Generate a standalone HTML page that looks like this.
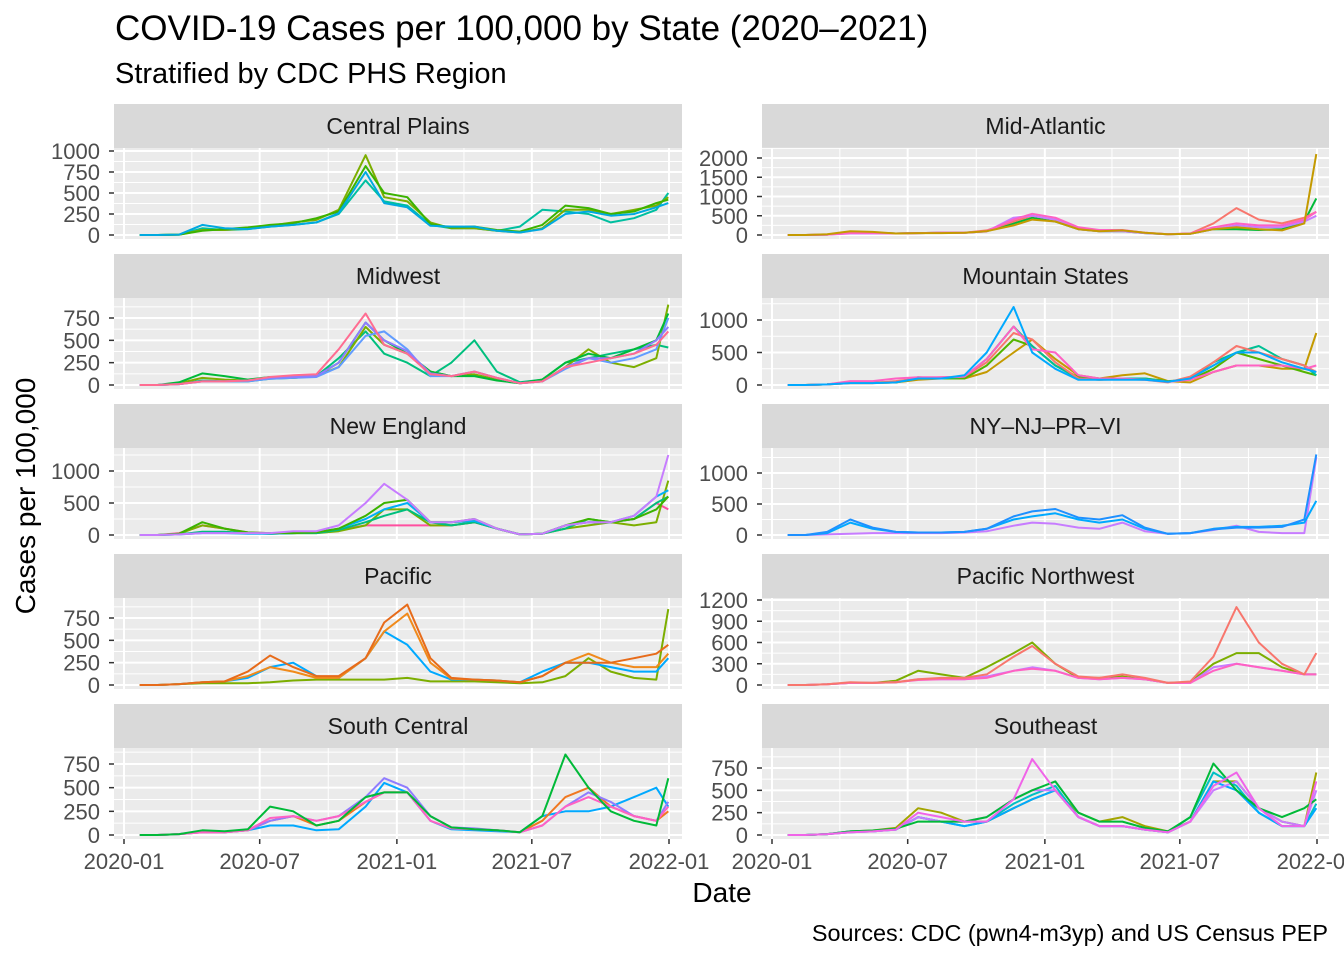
<!DOCTYPE html>
<html><head><meta charset="utf-8"><style>
body{margin:0;background:#fff;}
svg text{font-family:"Liberation Sans",Arial,sans-serif;}
</style></head><body>
<svg id="chart" width="1344" height="960" viewBox="0 0 1344 960" xmlns="http://www.w3.org/2000/svg">
<text x="115" y="40" font-size="35" fill="#000">COVID-19 Cases per 100,000 by State (2020–2021)</text>
<text x="115" y="83" font-size="29" fill="#000">Stratified by CDC PHS Region</text>
<text x="722" y="902" font-size="28" text-anchor="middle" fill="#000">Date</text>
<text transform="translate(35,496) rotate(-90)" font-size="28" text-anchor="middle" fill="#000">Cases per 100,000</text>
<text x="1328" y="941" font-size="23.4" text-anchor="end" fill="#000">Sources: CDC (pwn4-m3yp) and US Census PEP</text>
<g id="panels"></g>
</svg>
<script>
const dates = ["2020-01-22","2020-02-15","2020-03-15","2020-04-15","2020-05-15","2020-06-15","2020-07-15","2020-08-15","2020-09-15","2020-10-15","2020-11-20","2020-12-15","2021-01-15","2021-02-15","2021-03-15","2021-04-15","2021-05-15","2021-06-15","2021-07-15","2021-08-15","2021-09-15","2021-10-15","2021-11-15","2021-12-15","2021-12-31"];
const xTickLabels = ["2020-01","2020-07","2021-01","2021-07","2022-01"];
const xMinorDates = ["2020-04-01","2020-10-01","2021-04-01","2021-10-01"];
const regions = ["Central Plains","Mid-Atlantic","Midwest","Mountain States","New England","NY–NJ–PR–VI","Pacific","Pacific Northwest","South Central","Southeast"];
const yTicks = [[0,250,500,750,1000],[0,500,1000,1500,2000],[0,250,500,750],[0,500,1000],[0,500,1000],[0,500,1000],[0,250,500,750],[0,300,600,900,1200],[0,250,500,750],[0,250,500,750]];
const yMaxPix = [[1000,151],[2000,158],[750,318],[1000,320],[1000,471],[1000,473],[750,618],[1200,600],[750,764],[750,768]];

const cpOlive=[0,0,5,60,60,80,110,150,180,300,950,450,400,150,80,80,50,30,80,300,300,250,300,350,450];
const cpGreen=[0,0,5,50,70,90,120,140,200,280,820,500,450,130,90,100,60,40,120,350,320,250,280,380,420];
const cpTeal=[0,0,5,80,60,70,100,120,150,250,650,400,350,120,80,80,50,100,300,280,250,150,200,300,500];
const cpBlue=[0,0,5,120,80,70,100,120,150,260,750,380,330,110,100,100,50,30,70,250,280,230,250,330,380];

const maGold=[0,0,20,100,80,40,50,50,60,100,250,400,350,150,100,120,60,20,30,150,200,150,120,300,2100];
const maGreen=[0,0,10,80,60,40,50,60,60,100,300,450,350,150,100,100,50,20,30,150,150,130,150,350,950];
const maRed=[0,0,10,70,60,40,50,60,60,120,350,500,400,180,120,120,60,20,40,300,700,400,300,450,600];
const maPink=[0,0,10,50,50,40,50,60,60,100,400,550,450,200,130,130,60,20,40,200,300,250,250,400,600];
const maPurple=[0,0,10,40,40,40,50,60,60,90,450,500,400,150,100,100,50,20,30,150,250,200,200,350,500];

const mwOlive=[0,0,20,80,60,50,80,80,100,200,650,450,350,150,100,120,60,20,40,200,400,250,200,300,900];
const mwGreen=[0,0,30,130,100,60,90,90,100,250,700,500,350,150,100,100,50,20,60,250,350,300,400,500,800];
const mwTeal=[0,0,10,50,40,40,70,80,100,300,600,350,250,100,250,500,150,30,60,250,300,350,400,450,420];
const mwBlue=[0,0,10,40,40,40,70,80,90,200,550,600,400,100,100,150,80,20,40,180,300,250,300,400,750];
const mwPink=[0,0,10,40,40,50,90,110,120,400,800,450,350,120,100,150,80,20,40,200,250,300,350,450,600];
const mwPurple=[0,0,10,40,40,50,80,90,100,250,700,500,380,130,100,150,80,20,40,200,300,300,350,500,650];

const msGold=[0,0,10,30,30,40,80,100,100,200,500,700,400,150,100,150,180,60,40,200,300,300,250,250,800];
const msGreen=[0,0,10,40,40,40,100,100,100,300,700,600,300,120,100,100,100,60,80,250,500,400,300,200,150];
const msTeal=[0,0,10,40,40,40,120,100,130,400,900,600,300,100,80,100,100,50,100,350,500,600,400,300,150];
const msBlue=[0,0,10,30,30,40,100,100,150,500,1200,500,250,80,80,80,80,50,100,300,500,500,350,250,200];
const msRed=[0,0,10,30,30,60,100,120,130,350,800,700,350,100,80,90,80,40,130,350,600,500,400,300,200];
const msPink=[0,0,10,60,60,100,120,120,130,400,900,550,500,150,100,100,80,50,80,200,300,300,300,250,300];

const neOlive=[0,0,20,150,100,30,20,30,30,60,150,400,400,150,150,200,100,10,20,100,150,200,150,200,850];
const neGreen=[0,0,20,200,100,40,30,30,40,100,300,500,550,200,200,250,100,10,20,150,250,200,250,400,600];
const neTeal=[0,0,10,50,50,30,20,30,30,80,200,300,400,200,150,200,100,10,20,100,250,200,250,500,600];
const neBlue=[0,0,10,30,30,20,20,30,40,100,250,400,500,200,200,220,100,10,20,150,200,200,300,600,700];
const nePurple=[0,0,10,30,30,30,30,60,60,150,500,800,550,200,200,250,100,10,20,150,200,200,300,600,1250];
const nePink=[0,0,30,150,100,40,30,30,40,80,150,150,150,150,150,200,100,10,20,150,200,200,250,500,400];

const nyBlueA=[0,0,50,250,120,50,40,40,50,100,300,380,420,280,250,320,120,20,30,90,120,120,130,250,1300];
const nyBlueB=[0,0,30,200,100,50,40,40,50,100,250,300,350,250,200,250,100,20,30,100,130,130,150,200,550];
const nyPurple=[0,0,10,20,30,30,30,30,40,60,150,200,180,120,100,200,60,20,30,80,150,50,30,30,1250];

const paOrange=[0,0,10,30,40,150,330,200,100,100,300,700,900,300,80,60,50,30,100,250,250,250,300,350,450];
const paGold=[0,0,10,30,40,100,200,150,80,80,300,600,800,250,70,60,50,30,100,250,350,250,200,200,350];
const paOlive=[0,0,10,20,20,20,30,50,60,60,60,60,80,40,40,40,30,20,30,100,300,150,80,60,850];
const paBlue=[0,0,10,30,40,80,200,250,100,80,300,600,450,150,60,60,50,30,150,250,250,200,150,150,300];

const pnRed=[0,0,10,40,30,40,80,100,100,150,400,550,300,120,100,150,100,30,50,400,1100,600,300,150,450];
const pnOlive=[0,0,10,30,30,60,200,150,100,250,450,600,300,100,100,120,80,30,40,300,450,450,250,150,150];
const pnPurple=[0,0,10,30,30,40,80,80,80,120,200,250,200,100,80,100,80,30,30,250,300,250,200,150,150];
const pnPink=[0,0,10,30,30,40,70,80,80,100,200,230,200,100,80,100,80,30,30,200,300,250,200,150,150];

const scGreen=[0,0,10,50,40,60,300,250,100,150,400,450,450,200,80,60,50,30,200,850,500,250,150,100,600];
const scBlue=[0,0,10,40,30,50,100,100,50,60,300,550,450,150,60,50,40,30,200,250,250,300,400,500,300];
const scOrange=[0,0,10,30,30,50,150,200,100,150,350,450,450,200,80,60,50,30,150,400,500,300,200,150,250];
const scPurple=[0,0,10,30,30,50,150,200,150,200,400,600,500,200,80,70,50,30,100,300,450,350,200,150,350];
const scPink=[0,0,10,30,30,50,180,200,150,200,350,450,450,150,70,60,50,30,100,300,400,300,200,150,300];

const seOlive=[0,0,10,40,50,80,300,250,150,150,300,400,500,250,150,200,100,40,150,600,600,300,150,100,700];
const seGreen=[0,0,10,40,50,70,150,150,150,200,400,500,600,250,150,150,80,40,200,800,500,300,200,300,400];
const seTeal=[0,0,10,30,40,60,200,150,100,150,350,450,550,200,100,100,60,30,200,700,550,250,100,100,350];
const seBlue=[0,0,10,40,40,60,200,150,100,150,300,400,500,200,100,100,60,30,150,600,500,250,100,100,300];
const seMagenta=[0,0,10,30,40,60,250,200,150,150,400,850,500,200,100,100,60,30,150,550,700,300,100,100,600];
const sePurple=[0,0,10,30,40,60,200,150,150,200,400,500,500,200,100,100,60,30,150,500,600,300,150,100,500];

const panelSeries = [
 [[cpTeal,"#00BFA0"],[cpOlive,"#7CAE00"],[cpGreen,"#3BB300"],[cpBlue,"#00A9E0"]],
 [[maGreen,"#00BA38"],[maRed,"#F8766D"],[maPurple,"#C77CFF"],[maPink,"#FF61C3"],[maGold,"#C49A00"]],
 [[mwTeal,"#00BF7D"],[mwOlive,"#7CAE00"],[mwGreen,"#00BA38"],[mwBlue,"#619CFF"],[mwPurple,"#8F7CFF"],[mwPink,"#FF6C91"]],
 [[msGold,"#C49A00"],[msGreen,"#53B400"],[msTeal,"#00C094"],[msRed,"#F8766D"],[msPink,"#FF61C3"],[msBlue,"#00A9FF"]],
 [[nePink,"#FF4FA0"],[neOlive,"#7CAE00"],[neTeal,"#00BF7D"],[neBlue,"#00B0F6"],[neGreen,"#3BB300"],[nePurple,"#C77CFF"]],
 [[nyPurple,"#C77CFF"],[nyBlueB,"#00A9FF"],[nyBlueA,"#1E90FF"]],
 [[paOlive,"#7CAE00"],[paBlue,"#00A9FF"],[paGold,"#F08A1B"],[paOrange,"#E76B1A"]],
 [[pnOlive,"#7CAE00"],[pnPurple,"#C77CFF"],[pnPink,"#FF61C3"],[pnRed,"#F8766D"]],
 [[scBlue,"#00A9FF"],[scOrange,"#F07820"],[scPurple,"#8F7CFF"],[scPink,"#FF61C3"],[scGreen,"#00BA38"]],
 [[seOlive,"#A3A500"],[seTeal,"#00BFC4"],[seBlue,"#00A9FF"],[sePurple,"#C77CFF"],[seGreen,"#00BA38"],[seMagenta,"#F064E8"]]
];

const NS="http://www.w3.org/2000/svg";
const root=document.getElementById('panels');
function mk(tag,attrs,parent){const e=document.createElementNS(NS,tag);for(const k in attrs)e.setAttribute(k,attrs[k]);parent.appendChild(e);return e;}
const day=s=>new Date(s+"T00:00:00Z").getTime()/86400000;
const d0=day("2020-01-01"), d1=day("2022-01-01");
const colX=[[114,682],[762,1329]];
function xScale(c,s){
  const off=colX[c][0]-114;
  return 124+off+(day(s)-d0)/(d1-d0)*545;
}
regions.forEach((name,i)=>{
  const c=i%2, r=Math.floor(i/2);
  const x0=colX[c][0], x1=colX[c][1];
  const sTop=104+150*r, pTop=148+150*r, pBot=239+150*r;
  const zeroY=235+150*r;
  const [mv,mp]=yMaxPix[i];
  const yS=v=>zeroY-(v/mv)*(zeroY-mp);
  const g=mk('g',{},root);
  
  
  const strip=mk('rect',{x:x0,y:sTop,width:x1-x0,height:pTop-sTop,fill:'#D9D9D9'},g);
  
  
  const st=mk('text',{x:(x0+x1)/2,y:sTop+30,'font-size':23,'text-anchor':'middle',fill:'#1A1A1A'},g);
  st.textContent=name;
  
  
  const bg=mk('rect',{x:x0,y:pTop,width:x1-x0,height:pBot-pTop,fill:'#EBEBEB'},g);
  
  
  const ticks=yTicks[i];
  for(let k=0;k<ticks.length;k++){
    const mid=k<ticks.length-1?(ticks[k]+ticks[k+1])/2:ticks[k]+(ticks[1]-ticks[0])/2;
    const ym=yS(mid);
    if(ym>pTop) mk('line',{x1:x0,x2:x1,y1:ym,y2:ym,stroke:'#fff','stroke-width':1},g);
  }
  xMinorDates.forEach(s=>{const x=xScale(c,s);mk('line',{x1:x,x2:x,y1:pTop,y2:pBot,stroke:'#fff','stroke-width':1},g);});
  ticks.forEach(t=>{
    const y=yS(t);
    mk('line',{x1:x0,x2:x1,y1:y,y2:y,stroke:'#fff','stroke-width':2},g);
    mk('line',{x1:x0-5,x2:x0,y1:y,y2:y,stroke:'#333','stroke-width':1.5},g);
    const tl=mk('text',{x:x0-14,y:y+8,'font-size':22,'text-anchor':'end',fill:'#4D4D4D'},g);
    tl.textContent=t;
    
    
  });
  xTickLabels.forEach(s=>{
    const x=xScale(c,s+"-01");
    mk('line',{x1:x,x2:x,y1:pTop,y2:pBot,stroke:'#fff','stroke-width':2},g);
    if(r===4){
      mk('line',{x1:x,x2:x,y1:pBot,y2:pBot+5,stroke:'#333','stroke-width':1.5},g);
      const xl=mk('text',{x:x,y:pBot+30,'font-size':22,'text-anchor':'middle',fill:'#4D4D4D'},g);
      xl.textContent=s;
      
      
    }
  });
  const clipId='clip'+i;
  const cp=mk('clipPath',{id:clipId},g);
  mk('rect',{x:x0,y:pTop,width:x1-x0,height:pBot-pTop},cp);
  const lg=mk('g',{'clip-path':'url(#'+clipId+')'},g);
  panelSeries[i].forEach(([vals,col])=>{
    const pts=vals.map((v,j)=>xScale(c,dates[j]).toFixed(1)+','+yS(v).toFixed(1)).join(' ');
    const pl=mk('polyline',{points:pts,fill:'none',stroke:col,'stroke-width':2,'stroke-linejoin':'round'},lg);
    
    
  });
});
</script>
</body></html>
